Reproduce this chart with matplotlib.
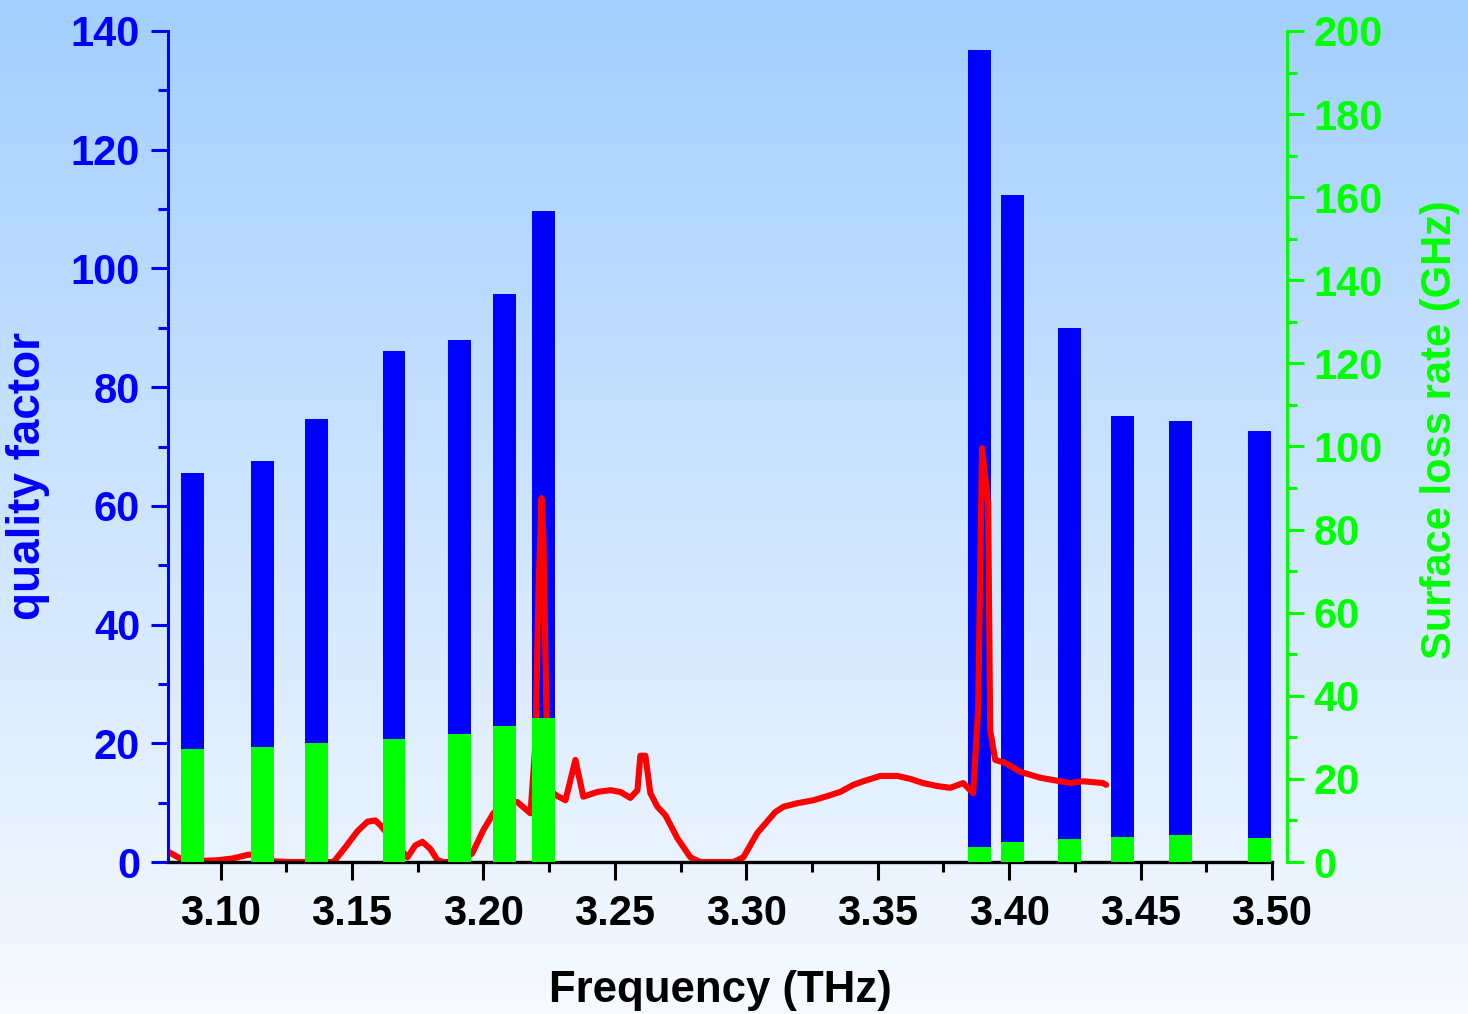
import matplotlib.pyplot as plt
import numpy as np
from matplotlib.ticker import MultipleLocator

plt.rcParams['font.family'] = ['Liberation Sans', 'DejaVu Sans']
plt.rcParams['font.weight'] = 'bold'

# bar data (frequency in THz)
bar_freq = [3.0894, 3.1158, 3.1365, 3.1660, 3.1910, 3.2080, 3.2228,
            3.3888, 3.4013, 3.4230, 3.4432, 3.4652, 3.4952]
quality = [65.5, 67.6, 74.6, 86.1, 87.9, 95.7, 109.7,
           136.8, 112.4, 90.0, 75.1, 74.3, 72.6]
loss_rate = [27.1, 27.7, 28.6, 29.6, 30.9, 32.8, 34.7,
             3.6, 4.7, 5.5, 6.1, 6.4, 5.8]

# red spectrum
spec_freq = [3.0802, 3.0810, 3.0859, 3.0935, 3.0989, 3.1046, 3.1103, 3.1152,
             3.1202, 3.1266, 3.1430, 3.1475, 3.1521, 3.1559, 3.1589, 3.1608,
             3.1658, 3.1711, 3.1741, 3.1768, 3.1798, 3.1825, 3.1848, 3.1913,
             3.1958, 3.2000, 3.2038, 3.2084, 3.2129, 3.2179, 3.2198, 3.2209,
             3.2221, 3.2228, 3.2240, 3.2255, 3.2274, 3.2312, 3.2350, 3.2380,
             3.2433, 3.2483, 3.2521, 3.2559, 3.2586, 3.2597, 3.2616, 3.2635,
             3.2662, 3.2692, 3.2738, 3.2787, 3.2825, 3.2901, 3.2951, 3.2989,
             3.3042, 3.3110, 3.3141, 3.3194, 3.3255, 3.3308, 3.3357, 3.3407,
             3.3445, 3.3510, 3.3574, 3.3624, 3.3673, 3.3726, 3.3776, 3.3825,
             3.3863, 3.3882, 3.3897, 3.3920, 3.3928, 3.3947, 3.3985, 3.4042,
             3.4118, 3.4232, 3.4281, 3.4357, 3.4369]
spec_val = [1.7, 1.5, 0.3, 0.2, 0.3, 0.6, 1.2, 1.4,
            0.1, 0.0, 0.0, 2.5, 5.2, 6.8, 7.0, 6.2,
            3.5, 0.8, 2.8, 3.4, 2.2, 0.3, 0.0, 0.0,
            1.5, 5.4, 8.2, 10.0, 10.1, 8.2, 20.0, 45.0,
            61.3, 55.0, 25.0, 12.0, 11.3, 10.4, 17.2, 11.0,
            11.8, 12.1, 11.8, 10.8, 12.1, 17.9, 17.9, 11.6,
            9.3, 7.9, 4.0, 0.8, 0.0, 0.0, 0.0, 0.8,
            4.9, 8.4, 9.3, 9.9, 10.4, 11.1, 11.8, 13.0,
            13.6, 14.5, 14.5, 14.0, 13.3, 12.8, 12.5, 13.3,
            11.6, 25.6, 69.7, 60.5, 22.2, 17.2, 16.7, 15.2,
            14.2, 13.3, 13.6, 13.3, 13.0]

fig = plt.figure(figsize=(14.68, 10.14), dpi=100)

# background gradient over the whole figure
bg = fig.add_axes([0, 0, 1, 1], zorder=-10)
top = np.array([163, 207, 254]) / 255
bot = np.array([247, 250, 255]) / 255
t = np.linspace(0, 1, 256)[:, None]
grad = (top[None, :] * (1 - t) + bot[None, :] * t)[:, None, :]
bg.imshow(grad, aspect='auto', extent=[0, 1, 0, 1])
bg.axis('off')

ax = fig.add_axes([168/1468, 1 - 862/1014, 1104/1468, 831/1014])
ax.patch.set_visible(False)
ax2 = ax.twinx()

bw = 0.0087
ax.bar(bar_freq, quality, width=bw, color='#0000ff', zorder=1)
ax.plot(spec_freq, spec_val, color='#ff0000', lw=4.4, zorder=2,
        solid_joinstyle='round', solid_capstyle='round')
ax2.bar(bar_freq, loss_rate, width=bw, color='#00ff00')

ax.set_xlim(3.08, 3.50)
ax.set_ylim(0, 140)
ax2.set_ylim(0, 200)

ax.xaxis.set_major_locator(MultipleLocator(0.05))
ax.xaxis.set_minor_locator(MultipleLocator(0.025))
ax.yaxis.set_major_locator(MultipleLocator(20))
ax.yaxis.set_minor_locator(MultipleLocator(10))
ax2.yaxis.set_major_locator(MultipleLocator(20))
ax2.yaxis.set_minor_locator(MultipleLocator(10))
ax.set_xticks(np.arange(3.10, 3.501, 0.05))
ax.set_xticklabels(['%.2f' % v for v in np.arange(3.10, 3.501, 0.05)])

for s in ['top', 'right']:
    ax.spines[s].set_visible(False)
for s in ['top', 'left', 'bottom']:
    ax2.spines[s].set_visible(False)
ax.spines['left'].set_color('#0000ff')
ax.spines['left'].set_linewidth(2.2)
ax.spines['bottom'].set_color('black')
ax.spines['bottom'].set_linewidth(2.4)
ax2.spines['right'].set_color('#00ff00')
ax2.spines['right'].set_linewidth(2.2)
ax2.spines['right'].set_position(('outward', 11))

ax.tick_params(axis='x', which='major', length=13, width=2.2, color='black',
               labelsize=30, pad=10, labelcolor='black')
ax.tick_params(axis='x', which='minor', length=7, width=2.2, color='black')
ax.tick_params(axis='y', which='major', length=12, width=2.2, color='#0000ff',
               labelsize=30, pad=8, labelcolor='#0000ff')
ax.tick_params(axis='y', which='minor', length=7, width=2.2, color='#0000ff')
ax2.tick_params(axis='y', which='major', length=12, width=2.2, color='#00ff00',
                labelsize=30, pad=7, labelcolor='#00ff00')
ax2.tick_params(axis='y', which='minor', length=7, width=2.2, color='#00ff00')

ax.set_xlabel('Frequency (THz)', fontsize=31.5, fontweight='bold', color='black')
ax.xaxis.set_label_coords(0.5, -0.13)
ax.set_ylabel('quality factor', fontsize=33, fontweight='bold', color='#0000ff')
ax.yaxis.set_label_coords(-0.107, 0.4645)
ax2.set_ylabel('Surface loss rate (GHz)', fontsize=30, fontweight='bold',
               color='#00ff00', rotation=90)
ax2.yaxis.set_label_coords(1.134, 0.52)

fig.savefig('out.png', dpi=100)
